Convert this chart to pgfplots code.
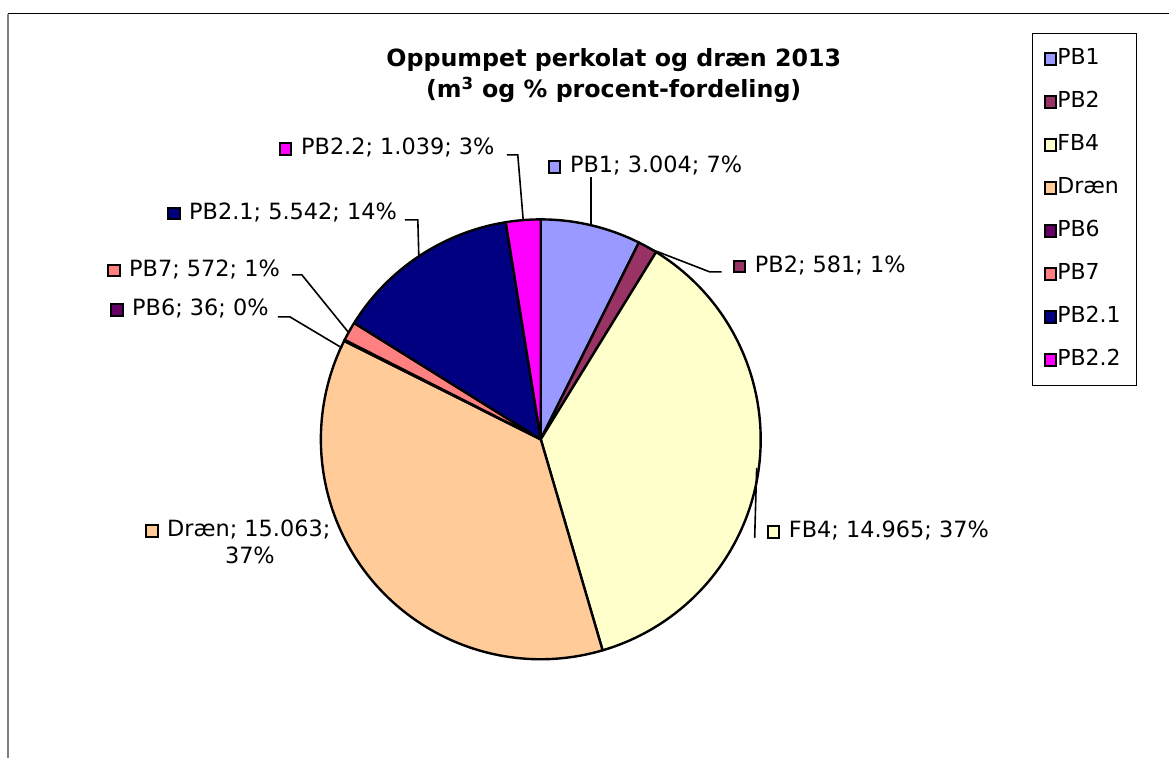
\documentclass[border=0pt]{standalone}
\usepackage{pgfplots}
\pgfplotsset{compat=1.18}
\usepackage{pgfplotstable}
\usepackage{fontspec}
\setmainfont{DejaVu Sans}

\definecolor{pc0}{HTML}{9999FF}
\definecolor{pc1}{HTML}{993366}
\definecolor{pc2}{HTML}{FFFFCC}
\definecolor{pc3}{HTML}{FFCC99}
\definecolor{pc4}{HTML}{660066}
\definecolor{pc5}{HTML}{FF8080}
\definecolor{pc6}{HTML}{000080}
\definecolor{pc7}{HTML}{FF00FF}

\pgfplotstableread{
name value
PB1 3004
PB2 581
FB4 14965
Draen 15063
PB6 36
PB7 572
PB2.1 5542
PB2.2 1039
}\piedata

\newcommand\mk[1]{\raisebox{0.9pt}{\setlength\fboxrule{1.5pt}\setlength\fboxsep{0pt}\fcolorbox{black}{#1}{\rule{0pt}{7pt}\rule{7pt}{0pt}}}\hspace{6.5pt}}

\begin{document}
\begin{tikzpicture}
% cumulative angles of the sectors (clockwise from 12 o'clock)
\gdef\pietotal{0}
\pgfplotsforeachungrouped \i in {0,...,7}{%
  \pgfplotstablegetelem{\i}{value}\of\piedata
  \xdef\pietotal{\fpeval{\pietotal+\pgfplotsretval}}%
}
\gdef\piecum{0}
\pgfplotsforeachungrouped \i in {0,...,7}{%
  \pgfplotstablegetelem{\i}{value}\of\piedata
  \expandafter\xdef\csname pieA\i\endcsname{\fpeval{90-360*\piecum/\pietotal}}%
  \xdef\piecum{\fpeval{\piecum+\pgfplotsretval}}%
  \expandafter\xdef\csname pieB\i\endcsname{\fpeval{90-360*\piecum/\pietotal}}%
}
\begin{axis}[
  x=0.75pt, y=0.75pt,
  xmin=0, xmax=1169, ymin=0, ymax=758,
  hide axis, clip=false,
  pieleg/.style={legend image code/.code={\filldraw[fill=#1, draw=black, line width=1.5pt] (0pt,-4.5pt) rectangle (8.5pt,4.5pt);}},
  legend style={at={(axis cs:1032,725)}, anchor=north west, draw=black, line width=0.75pt,
    inner xsep=9pt, inner ysep=12pt, row sep=18.3pt,
    font=\fontsize{16.5}{19}\selectfont,
    nodes={inner sep=0pt, text height=11pt, text depth=3pt, text width=50pt},
    /tikz/every even column/.append style={column sep=1.5pt}},
  legend cell align=left,
]
\path (axis cs:0,0) rectangle (axis cs:1169,758);
% frame
\draw[black, line width=0.75pt] (axis cs:8,744) -- (axis cs:1169,744);
\draw[gray, line width=1.5pt] (axis cs:8,744) -- (axis cs:8,0);

% sectors
\pgfplotsinvokeforeach{0,...,7}{
  \filldraw[fill=pc#1, draw=black, line width=1.8pt, line join=round]
    (axis cs:541,318.5) -- ++(\csname pieA#1\endcsname:165pt)
    arc[start angle=\csname pieA#1\endcsname, end angle=\csname pieB#1\endcsname, radius=165pt] -- cycle;
}

% legend
\addlegendimage{pieleg=pc0}\addlegendentry{PB1}
\addlegendimage{pieleg=pc1}\addlegendentry{PB2}
\addlegendimage{pieleg=pc2}\addlegendentry{FB4}
\addlegendimage{pieleg=pc3}\addlegendentry{Dræn}
\addlegendimage{pieleg=pc4}\addlegendentry{PB6}
\addlegendimage{pieleg=pc5}\addlegendentry{PB7}
\addlegendimage{pieleg=pc6}\addlegendentry{PB2.1}
\addlegendimage{pieleg=pc7}\addlegendentry{PB2.2}

% title
\node[anchor=base, font=\fontsize{17.8}{21}\selectfont\bfseries] at (axis cs:614,691) {Oppumpet perkolat og dræn 2013};
\node[anchor=base, font=\fontsize{17.8}{21}\selectfont\bfseries] at (axis cs:614,660) {(m\textsuperscript{3} og \% procent-fordeling)};

% leader lines
\tikzset{ldr/.style={black, line width=1.2pt}}
\draw[ldr] (axis cs:507,603) -- (axis cs:518,603) -- (axis cs:523.5,537);
\draw[ldr] (axis cs:591,581) -- (axis cs:591,534);
\draw[ldr] (axis cs:722,486) -- (axis cs:710,486) -- (axis cs:648,510);
\draw[ldr] (axis cs:755,220) -- (axis cs:757,290);
\draw[ldr] (axis cs:278,441) -- (axis cs:290,441) -- (axis cs:342,410);
\draw[ldr] (axis cs:292,483) -- (axis cs:302,483) -- (axis cs:349,425);
\draw[ldr] (axis cs:405,538) -- (axis cs:418,538) -- (axis cs:419,502);

% data labels
\tikzset{lbl/.style={anchor=base west, inner sep=0pt, font=\fontsize{16.8}{19}\selectfont}}
\node[lbl] at (axis cs:548,585) {\mk{pc0}PB1; 3.004; 7\%};
\node[lbl] at (axis cs:733,485.5) {\mk{pc1}PB2; 581; 1\%};
\node[lbl] at (axis cs:767,220) {\mk{pc2}FB4; 14.965; 37\%};
\node[lbl] at (axis cs:145,221) {\mk{pc3}Dræn; 15.063;};
\node[anchor=base, inner sep=0pt, font=\fontsize{16.8}{19}\selectfont] at (axis cs:250,194) {37\%};
\node[lbl] at (axis cs:110,442) {\mk{pc4}PB6; 36; 0\%};
\node[lbl] at (axis cs:107,481.5) {\mk{pc5}PB7; 572; 1\%};
\node[lbl] at (axis cs:167,538.5) {\mk{pc6}PB2.1; 5.542; 14\%};
\node[lbl] at (axis cs:279,603) {\mk{pc7}PB2.2; 1.039; 3\%};
\end{axis}
\end{tikzpicture}
\end{document}
